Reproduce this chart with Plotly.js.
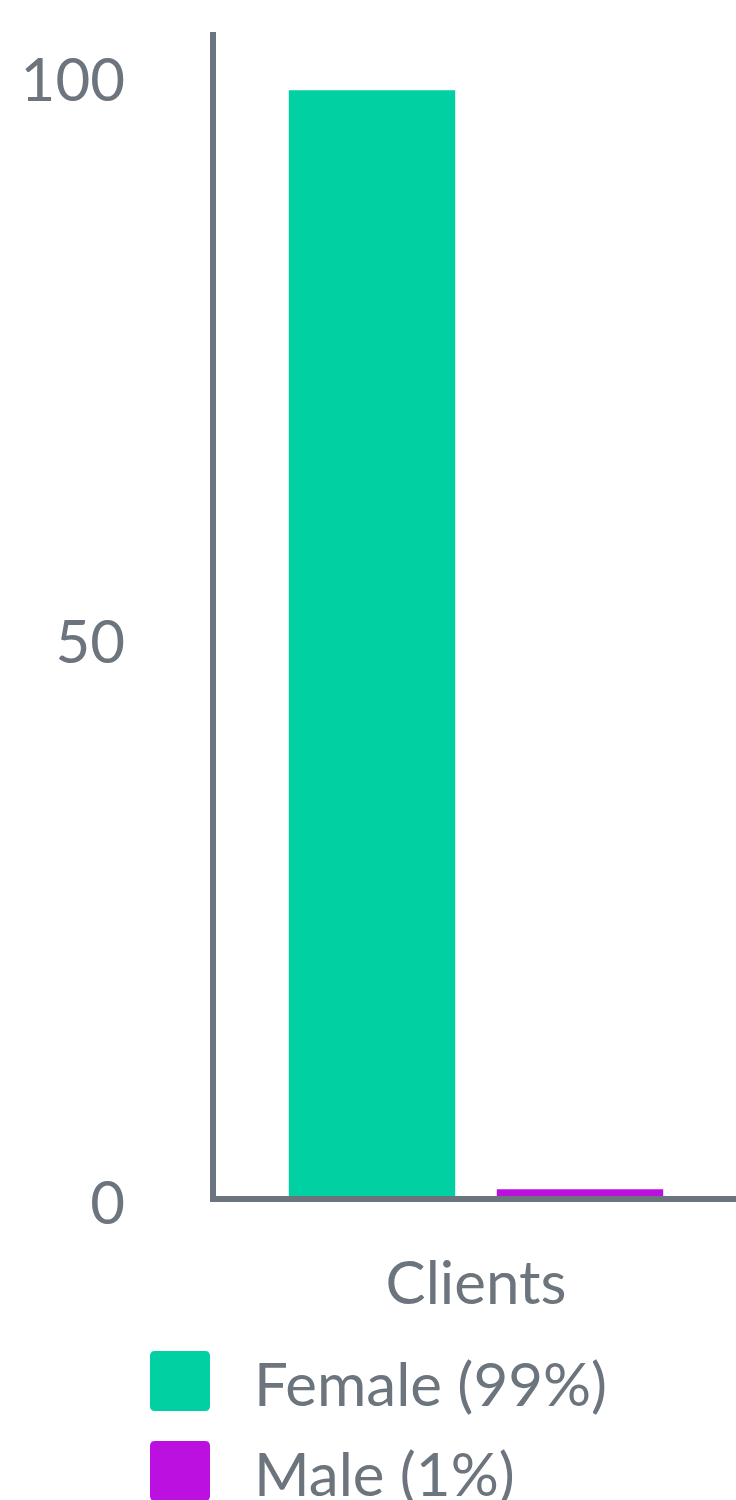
<!DOCTYPE html>
<html>
<head>
<meta charset="utf-8">
<script src="https://cdn.plot.ly/plotly-3.0.1.min.js"></script>
<style>
  html, body { margin: 0; padding: 0; background: #ffffff; }
  #chart { width: 736px; height: 1500px; }
</style>
</head>
<body>
<div id="chart"></div>
<script>
// ---- data ----
const categories = ['Clients'];
const seriesNames = ['Female (99%)', 'Male (1%)'];
const femaleValues = [98.5];
const maleValues = [0.6];
const seriesColors = ['#00d0a2', '#bb10e0'];
const yTickVals = [0, 50, 100];
const yTickText = ['0', '50', '100'];

// ---- geometry (pixels) ----
const W = 736, H = 1500;
const M = { l: 216, r: 0, t: 32, b: 304 };
const PW = W - M.l - M.r, PH = H - M.t - M.b;
const px2x = p => (p - M.l) / PW;
const px2y = p => (H - M.b - p) / PH;
const grey = '#6c757d';

function roundedRect(x0, y0, x1, y1, r) {
  const X = px2x, Y = px2y;
  return 'M' + X(x0 + r) + ',' + Y(y0) +
    ' L' + X(x1 - r) + ',' + Y(y0) +
    ' Q' + X(x1) + ',' + Y(y0) + ' ' + X(x1) + ',' + Y(y0 + r) +
    ' L' + X(x1) + ',' + Y(y1 - r) +
    ' Q' + X(x1) + ',' + Y(y1) + ' ' + X(x1 - r) + ',' + Y(y1) +
    ' L' + X(x0 + r) + ',' + Y(y1) +
    ' Q' + X(x0) + ',' + Y(y1) + ' ' + X(x0) + ',' + Y(y1 - r) +
    ' L' + X(x0) + ',' + Y(y0 + r) +
    ' Q' + X(x0) + ',' + Y(y0) + ' ' + X(x0 + r) + ',' + Y(y0) + ' Z';
}

const seriesValues = [femaleValues, maleValues];
const traces = seriesValues.map((vals, i) => ({
  type: 'bar',
  x: categories,
  y: vals,
  name: seriesNames[i],
  marker: { color: seriesColors[i] },
  hoverinfo: 'skip'
}));

// custom large legend
const legendTop = [1351, 1441];
const shapes = seriesNames.map((n, i) => ({
  type: 'path',
  xref: 'paper', yref: 'paper',
  path: roundedRect(150, legendTop[i], 210, legendTop[i] + 60, 5),
  fillcolor: seriesColors[i],
  line: { width: 0 },
  layer: 'above'
}));
const annotations = seriesNames.map((n, i) => ({
  xref: 'paper', yref: 'paper',
  x: px2x(252), y: px2y(legendTop[i] + 32),
  xanchor: 'left', yanchor: 'middle',
  text: n,
  showarrow: false,
  font: { family: 'Lato, sans-serif', size: 60, color: grey }
}));

const layout = {
  width: W, height: H,
  margin: { l: M.l, r: M.r, t: M.t, b: M.b, pad: 0 },
  paper_bgcolor: '#ffffff', plot_bgcolor: '#ffffff',
  font: { family: 'Lato, sans-serif', size: 60, color: grey },
  showlegend: false,
  barmode: 'group',
  bargap: 0.2,
  bargroupgap: 0.2,
  xaxis: {
    type: 'category',
    showline: true, linewidth: 6, linecolor: grey,
    showgrid: false, zeroline: false, ticks: '',
    tickfont: { size: 60, color: grey },
    ticklabelstandoff: 30,
    fixedrange: true
  },
  yaxis: {
    autorange: true,
    rangemode: 'tozero',
    showline: true, linewidth: 6, linecolor: grey,
    showgrid: false, zeroline: false, ticks: '',
    tickvals: yTickVals, ticktext: yTickText,
    tickfont: { size: 60, color: grey },
    ticklabelstandoff: 73,
    ticklabelshift: 7,
    fixedrange: true
  },
  shapes: shapes,
  annotations: annotations
};

Plotly.newPlot('chart', traces, layout, { displayModeBar: false, staticPlot: true });
</script>
</body>
</html>
